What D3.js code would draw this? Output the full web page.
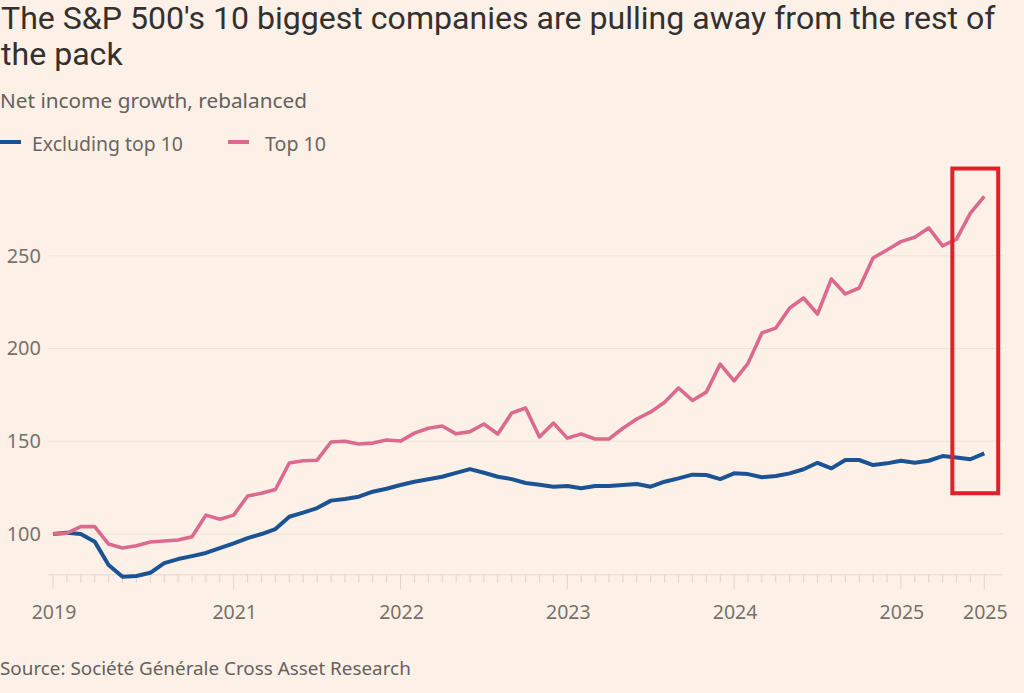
<!DOCTYPE html>
<html>
<head>
<meta charset="utf-8">
<script src="https://cdn.jsdelivr.net/npm/d3@7"></script>
<style>
  html, body { margin: 0; padding: 0; background: #fdf1e7; }
  svg { display: block; }
</style>
</head>
<body>
<div id="chart"></div>
<script>
// monthly points, rebalanced to 100 at the start
var top10 = [100, 100.5, 104, 104, 94.6, 92.5, 93.7, 95.7, 96.2, 96.8,
  98.5, 110.2, 108, 110.2, 120.5, 122, 124, 138.3, 139.5, 139.8,
  149.6, 150, 148.5, 149, 150.7, 150.1, 154.4, 157, 158.2, 154,
  155.2, 159.3, 153.9, 165.2, 167.9, 152.3, 159.8, 151.7, 153.9, 151.2,
  151.2, 157, 162, 165.8, 171, 178.7, 172, 176.5, 191.6, 182.6,
  192, 208.4, 211, 221.8, 227.2, 218.6, 237.5, 229.4, 232.6, 248.8,
  253.1, 257.6, 260, 265, 255.3, 259, 273, 282];

var exTop10 = [100, 100.7, 100, 95.9, 83.3, 77, 77.4, 79.1, 84.3, 86.5,
  88.1, 89.8, 92.4, 95, 97.8, 100, 102.7, 109.3, 111.5, 114,
  118, 118.9, 120.1, 122.8, 124.4, 126.4, 128.2, 129.5, 130.9, 133,
  135, 133, 130.9, 129.6, 127.5, 126.6, 125.5, 125.9, 124.7, 125.9,
  125.9, 126.4, 127, 125.5, 128.2, 130, 132, 131.8, 129.6, 132.7,
  132.3, 130.6, 131.3, 132.7, 134.9, 138.4, 135.4, 139.9, 139.9, 137.2,
  138.1, 139.5, 138.4, 139.5, 142, 141.3, 140.3, 143.5];

var tickIndex = [0, 13, 25, 37, 49, 61, 67];
var tickLabels = ["2019", "2021", "2022", "2023", "2024", "2025", "2025"];
var yTicks = [100, 150, 200, 250];

// red highlight box drawn over the last few months
var boxIndex = [64.7, 68];
var boxValues = [122, 297];

var W = 1024, H = 693;
var axisBase = 78;

var svg = d3.select('#chart').append('svg')
	.attr('width', W)
	.attr('height', H);

svg.append('rect')
	.attr('width', W)
	.attr('height', H)
	.attr('fill', '#fdf1e7');

var x = d3.scaleLinear().domain([0, top10.length - 1]).range([53, 984.3]);
var y = d3.scaleLinear().domain([77, 285]).range([576.7, 190.8]);

var font = '"Noto Sans", "Open Sans", sans-serif';
var titleFont = 'Roboto, "Liberation Sans", sans-serif';

// fit a text element to a measured width by changing its font size
function fit(sel, w) {
	var len = sel.node().getComputedTextLength();
	var fs = parseFloat(sel.attr('font-size'));
	sel.attr('font-size', (fs * w / len).toFixed(2));
	return fs * w / len;
}

// title
var t1 = svg.append('text')
	.attr('x', 1).attr('y', 29)
	.attr('font-family', titleFont).attr('font-size', 26)
	.attr('fill', '#33302e')
	.text("The S&P 500's 10 biggest companies are pulling away from the rest of");
var tfs = fit(t1, 995);
svg.append('text')
	.attr('x', 1).attr('y', 65)
	.attr('font-family', titleFont).attr('font-size', tfs)
	.attr('fill', '#33302e')
	.text('the pack');

var sub = svg.append('text')
	.attr('x', 0).attr('y', 108)
	.attr('font-family', font).attr('font-size', 20)
	.attr('fill', '#66605c')
	.text('Net income growth, rebalanced');
fit(sub, 307);

// legend
var legend = [
	{ name: 'Excluding top 10', color: '#1c5394', x0: 0, tx: 32, w: 151 },
	{ name: 'Top 10', color: '#dc6a8e', x0: 228, tx: 265, w: 61 }
];
legend.forEach(function(d) {
	svg.append('line')
		.attr('x1', d.x0).attr('x2', d.x0 + 21)
		.attr('y1', 142).attr('y2', 142)
		.attr('stroke', d.color)
		.attr('stroke-width', 4);
	var lt = svg.append('text')
		.attr('x', d.tx).attr('y', 151)
		.attr('font-family', font).attr('font-size', 19)
		.attr('fill', '#6b6560')
		.text(d.name);
	fit(lt, d.w);
});

// grid
svg.selectAll('line.grid')
	.data(yTicks)
	.enter().append('line')
		.attr('class', 'grid')
		.attr('x1', 48).attr('x2', 1003)
		.attr('y1', function(d) { return y(d); })
		.attr('y2', function(d) { return y(d); })
		.attr('stroke', '#efe3d8')
		.attr('stroke-width', 1.2);

svg.selectAll('text.ylab')
	.data(yTicks)
	.enter().append('text')
		.attr('class', 'ylab')
		.attr('x', 41)
		.attr('y', function(d) { return y(d) + 7; })
		.attr('text-anchor', 'end')
		.attr('font-family', font).attr('font-size', 20)
		.attr('fill', '#77716b')
		.text(function(d) { return d; });

// x axis: base line, a small tick every month and a longer one at each label
svg.append('line')
	.attr('x1', 48).attr('x2', 1003)
	.attr('y1', y(axisBase)).attr('y2', y(axisBase))
	.attr('stroke', '#e4d9ce')
	.attr('stroke-width', 1);

svg.selectAll('line.mtick')
	.data(d3.range(top10.length))
	.enter().append('line')
		.attr('class', 'mtick')
		.attr('x1', function(d) { return x(d); })
		.attr('x2', function(d) { return x(d); })
		.attr('y1', y(axisBase))
		.attr('y2', function(d) { return y(axisBase) + (tickIndex.indexOf(d) >= 0 ? 14 : 8); })
		.attr('stroke', '#e0d4c9')
		.attr('stroke-width', 1);

svg.selectAll('text.xlab')
	.data(tickIndex)
	.enter().append('text')
		.attr('class', 'xlab')
		.attr('x', function(d) { return x(d) + 1; })
		.attr('y', 619)
		.attr('text-anchor', 'middle')
		.attr('font-family', font).attr('font-size', 19.5)
		.attr('fill', '#77716b')
		.text(function(d, i) { return tickLabels[i]; });

// lines
var line = d3.line()
	.x(function(d, i) { return x(i); })
	.y(function(d) { return y(d); });

svg.append('path')
	.datum(exTop10)
	.attr('d', line)
	.attr('fill', 'none')
	.attr('stroke', '#1c5394')
	.attr('stroke-width', 4)
	.attr('stroke-linejoin', 'round');

svg.append('path')
	.datum(top10)
	.attr('d', line)
	.attr('fill', 'none')
	.attr('stroke', '#dc6a8e')
	.attr('stroke-width', 3.6)
	.attr('stroke-linejoin', 'round');

// highlight box
svg.append('rect')
	.attr('x', x(boxIndex[0]))
	.attr('y', y(boxValues[1]))
	.attr('width', x(boxIndex[1]) - x(boxIndex[0]))
	.attr('height', y(boxValues[0]) - y(boxValues[1]))
	.attr('fill', 'none')
	.attr('stroke', '#e3202a')
	.attr('stroke-width', 4);

// source
var src = svg.append('text')
	.attr('x', 0).attr('y', 675)
	.attr('font-family', font).attr('font-size', 18)
	.attr('fill', '#66605c')
	.text('Source: Société Générale Cross Asset Research');
fit(src, 411);
</script>
</body>
</html>
